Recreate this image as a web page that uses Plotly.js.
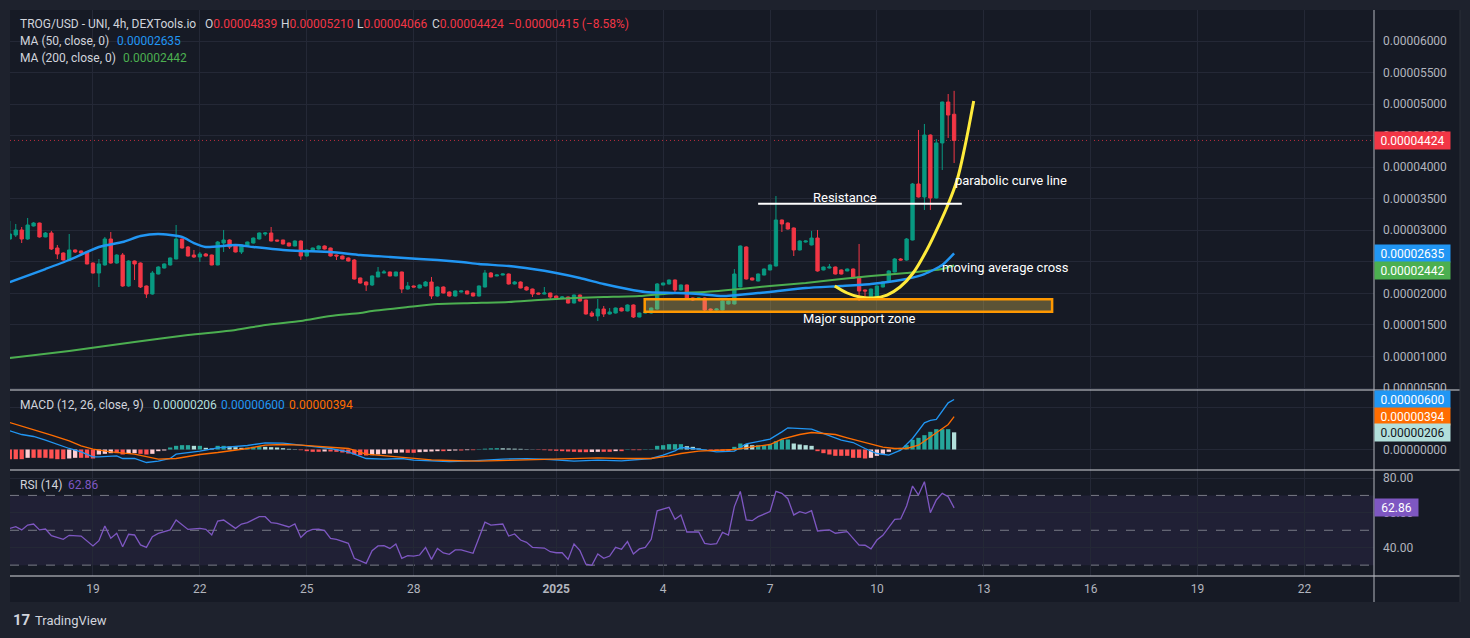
<!DOCTYPE html>
<html><head><meta charset="utf-8">
<script src="https://cdn.plot.ly/plotly-3.0.1.min.js"></script>
<style>html,body{margin:0;padding:0;background:#1e222d;overflow:hidden}#chart{width:1470px;height:638px}</style>
</head><body><div id="chart"></div>
<script>
// ---------- DATA ----------
const startTime = Date.UTC(2024, 11, 16, 16, 0, 0); // first 4h bar
const barHours = 4;

const openVals = [2862e-8,2925e-8,3005e-8,2862e-8,3068e-8,3115e-8,2894e-8,2957e-8,2719e-8,2640e-8,
2529e-8,2688e-8,2672e-8,2656e-8,2481e-8,2323e-8,2450e-8,2862e-8,2481e-8,2608e-8,
2117e-8,2513e-8,2481e-8,2117e-8,1990e-8,2307e-8,2402e-8,2450e-8,2545e-8,2862e-8,
2735e-8,2608e-8,2577e-8,2624e-8,2608e-8,2450e-8,2798e-8,2846e-8,2767e-8,2656e-8,
2751e-8,2798e-8,2862e-8,2941e-8,2957e-8,2846e-8,2846e-8,2798e-8,2751e-8,2830e-8,
2592e-8,2672e-8,2703e-8,2751e-8,2719e-8,2608e-8,2592e-8,2561e-8,2529e-8,2244e-8,
2180e-8,2133e-8,2260e-8,2323e-8,2339e-8,2276e-8,2339e-8,2069e-8,2117e-8,2085e-8,
2117e-8,2180e-8,1958e-8,2101e-8,2022e-8,1958e-8,2022e-8,2038e-8,2006e-8,1958e-8,
2101e-8,2323e-8,2276e-8,2291e-8,2307e-8,2149e-8,2180e-8,2101e-8,2069e-8,2006e-8,
1990e-8,2006e-8,1958e-8,1927e-8,1942e-8,1847e-8,1974e-8,1895e-8,1689e-8,1641e-8,
1752e-8,1673e-8,1689e-8,1768e-8,1721e-8,1816e-8,1625e-8,1689e-8,1689e-8,1752e-8,
2133e-8,2149e-8,2212e-8,2054e-8,2133e-8,1927e-8,1911e-8,1927e-8,1752e-8,1737e-8,
1737e-8,1832e-8,1832e-8,2101e-8,2735e-8,2244e-8,2196e-8,2291e-8,2371e-8,2434e-8,
3163e-8,3115e-8,3036e-8,2688e-8,2814e-8,2767e-8,2877e-8,2371e-8,2402e-8,2418e-8,
2371e-8,2355e-8,2386e-8,2260e-8,2054e-8,1927e-8,1942e-8,2101e-8,2180e-8,2339e-8,
2545e-8,2529e-8,2846e-8,3734e-8,3528e-8,4510e-8,3512e-8,4384e-8,5033e-8,4839e-8];

const highVals = [3147e-8,3100e-8,3052e-8,3195e-8,3130e-8,3120e-8,2973e-8,2990e-8,2767e-8,2650e-8,
2941e-8,2695e-8,2680e-8,2665e-8,2490e-8,2545e-8,2894e-8,2973e-8,2620e-8,2640e-8,
2525e-8,2520e-8,2490e-8,2125e-8,2355e-8,2430e-8,2475e-8,2570e-8,3084e-8,2870e-8,
2751e-8,2688e-8,2656e-8,2640e-8,2615e-8,2830e-8,3005e-8,2855e-8,2775e-8,2775e-8,
2820e-8,2885e-8,2965e-8,2973e-8,3052e-8,2850e-8,2850e-8,2805e-8,2840e-8,2840e-8,
2695e-8,2725e-8,2760e-8,2760e-8,2725e-8,2615e-8,2600e-8,2570e-8,2545e-8,2250e-8,
2190e-8,2285e-8,2418e-8,2371e-8,2345e-8,2345e-8,2345e-8,2180e-8,2125e-8,2140e-8,
2196e-8,2260e-8,2110e-8,2110e-8,2030e-8,2045e-8,2045e-8,2045e-8,2010e-8,2125e-8,
2371e-8,2339e-8,2300e-8,2315e-8,2315e-8,2196e-8,2190e-8,2110e-8,2075e-8,2010e-8,
2101e-8,2010e-8,1965e-8,1958e-8,1950e-8,1980e-8,1980e-8,1900e-8,1721e-8,1911e-8,
1800e-8,1768e-8,1775e-8,1775e-8,1825e-8,1825e-8,1695e-8,1712e-8,1775e-8,2164e-8,
2172e-8,2220e-8,2220e-8,2140e-8,2140e-8,1935e-8,1935e-8,1935e-8,1760e-8,1760e-8,
1887e-8,1887e-8,2386e-8,2760e-8,2745e-8,2250e-8,2315e-8,2395e-8,2460e-8,3543e-8,
3170e-8,3125e-8,3045e-8,2840e-8,2840e-8,2990e-8,3005e-8,2425e-8,2466e-8,2425e-8,
2380e-8,2395e-8,2395e-8,2783e-8,2060e-8,2075e-8,2125e-8,2190e-8,2365e-8,2561e-8,
2561e-8,2877e-8,3750e-8,4590e-8,4685e-8,4520e-8,4447e-8,5040e-8,5160e-8,5210e-8];

const lowVals = [2846e-8,2894e-8,2798e-8,2850e-8,3060e-8,2885e-8,2890e-8,2688e-8,2545e-8,2520e-8,
2513e-8,2640e-8,2630e-8,2460e-8,2315e-8,2101e-8,2440e-8,2470e-8,2470e-8,2105e-8,
2105e-8,2212e-8,2085e-8,1927e-8,1980e-8,2300e-8,2395e-8,2440e-8,2540e-8,2710e-8,
2585e-8,2561e-8,2497e-8,2585e-8,2445e-8,2445e-8,2656e-8,2703e-8,2650e-8,2624e-8,
2745e-8,2790e-8,2855e-8,2910e-8,2825e-8,2820e-8,2775e-8,2745e-8,2745e-8,2529e-8,
2585e-8,2665e-8,2695e-8,2695e-8,2585e-8,2529e-8,2540e-8,2505e-8,2220e-8,2155e-8,
2038e-8,2117e-8,2255e-8,2318e-8,2270e-8,2270e-8,2006e-8,2060e-8,2095e-8,2080e-8,
2110e-8,1911e-8,1950e-8,2000e-8,1950e-8,1950e-8,2015e-8,1985e-8,1950e-8,1950e-8,
2095e-8,2255e-8,2270e-8,2285e-8,2140e-8,2140e-8,2080e-8,2045e-8,1942e-8,1985e-8,
1985e-8,1911e-8,1920e-8,1920e-8,1840e-8,1840e-8,1870e-8,1665e-8,1625e-8,1562e-8,
1625e-8,1665e-8,1680e-8,1715e-8,1715e-8,1610e-8,1620e-8,1680e-8,1680e-8,1745e-8,
2125e-8,2140e-8,2006e-8,2045e-8,1905e-8,1879e-8,1905e-8,1689e-8,1730e-8,1730e-8,
1730e-8,1825e-8,1825e-8,2095e-8,2220e-8,2205e-8,2190e-8,2285e-8,2365e-8,2425e-8,
2973e-8,3010e-8,2592e-8,2680e-8,2805e-8,2760e-8,2345e-8,2365e-8,2395e-8,2300e-8,
2300e-8,2350e-8,2235e-8,1879e-8,1911e-8,1920e-8,1935e-8,2095e-8,2175e-8,2330e-8,
2520e-8,2520e-8,2840e-8,3520e-8,3322e-8,3322e-8,3505e-8,3956e-8,4463e-8,4066e-8];

const closeVals = [2941e-8,3005e-8,2862e-8,3084e-8,3115e-8,2894e-8,2957e-8,2703e-8,2624e-8,2529e-8,
2688e-8,2656e-8,2640e-8,2466e-8,2323e-8,2466e-8,2862e-8,2481e-8,2608e-8,2117e-8,
2513e-8,2466e-8,2101e-8,1990e-8,2323e-8,2418e-8,2466e-8,2561e-8,2862e-8,2719e-8,
2592e-8,2577e-8,2624e-8,2592e-8,2450e-8,2814e-8,2846e-8,2735e-8,2656e-8,2767e-8,
2814e-8,2877e-8,2957e-8,2957e-8,2830e-8,2830e-8,2783e-8,2751e-8,2830e-8,2592e-8,
2688e-8,2719e-8,2751e-8,2703e-8,2592e-8,2592e-8,2545e-8,2513e-8,2228e-8,2164e-8,
2133e-8,2276e-8,2339e-8,2339e-8,2276e-8,2339e-8,2069e-8,2117e-8,2101e-8,2133e-8,
2180e-8,1958e-8,2101e-8,2006e-8,1958e-8,2038e-8,2038e-8,1990e-8,1958e-8,2117e-8,
2323e-8,2260e-8,2291e-8,2307e-8,2149e-8,2180e-8,2085e-8,2054e-8,1990e-8,1990e-8,
2006e-8,1942e-8,1927e-8,1942e-8,1847e-8,1974e-8,1879e-8,1673e-8,1641e-8,1752e-8,
1673e-8,1705e-8,1768e-8,1721e-8,1816e-8,1625e-8,1689e-8,1705e-8,1768e-8,2149e-8,
2164e-8,2212e-8,2054e-8,2133e-8,1911e-8,1895e-8,1927e-8,1737e-8,1737e-8,1752e-8,
1879e-8,1879e-8,2307e-8,2751e-8,2228e-8,2212e-8,2307e-8,2386e-8,2450e-8,3163e-8,
3100e-8,3020e-8,2688e-8,2830e-8,2830e-8,2877e-8,2355e-8,2418e-8,2418e-8,2307e-8,
2307e-8,2386e-8,2244e-8,2038e-8,2038e-8,2069e-8,2117e-8,2180e-8,2355e-8,2545e-8,
2529e-8,2862e-8,3734e-8,3528e-8,4510e-8,3512e-8,4384e-8,5033e-8,4827e-8,4424e-8];

// Moving averages (bar index, value)
const ma50Idx = [0,6,10,15,19,22,25,29,31,33,38,41,46,49,54,59,64,69,72,76,79,84,88,92,96,100,104,107,112,116,120,126,128,134,140,145,150,154,157,159];
const ma50Val = [2180e-8,2386e-8,2529e-8,2735e-8,2814e-8,2909e-8,2941e-8,2894e-8,2798e-8,2735e-8,2767e-8,2735e-8,2688e-8,2672e-8,2656e-8,2608e-8,2577e-8,2545e-8,2529e-8,2497e-8,2466e-8,2434e-8,2386e-8,2323e-8,2244e-8,2149e-8,2069e-8,2022e-8,2006e-8,1990e-8,1958e-8,2006e-8,2022e-8,2085e-8,2117e-8,2149e-8,2212e-8,2307e-8,2450e-8,2635e-8];
const ma200Idx = [0,10,21,30,38,43,49,54,59,61,67,72,78,84,89,95,100,106,112,117,123,128,134,140,145,151,157,159];
const ma200Val = [976e-8,1087e-8,1229e-8,1340e-8,1420e-8,1499e-8,1562e-8,1641e-8,1689e-8,1721e-8,1784e-8,1832e-8,1847e-8,1863e-8,1895e-8,1927e-8,1942e-8,1958e-8,2006e-8,2022e-8,2069e-8,2117e-8,2164e-8,2228e-8,2276e-8,2323e-8,2386e-8,2442e-8];

// MACD (12,26,9)
const macdHist = [-116e-8,-116e-8,-116e-8,-100e-8,-100e-8,-100e-8,-100e-8,-108e-8,-116e-8,-116e-8,
-108e-8,-100e-8,-100e-8,-100e-8,-108e-8,-60e-8,-52e-8,-44e-8,-44e-8,-60e-8,
-52e-8,-44e-8,-52e-8,-60e-8,-52e-8,-20e-8,-12e-8,24e-8,44e-8,52e-8,
52e-8,44e-8,44e-8,20e-8,12e-8,44e-8,44e-8,36e-8,28e-8,20e-8,
24e-8,32e-8,36e-8,32e-8,28e-8,24e-8,16e-8,8e-8,4e-8,-8e-8,
-20e-8,-28e-8,-28e-8,-24e-8,-24e-8,-28e-8,-36e-8,-48e-8,-60e-8,-68e-8,
-72e-8,-68e-8,-60e-8,-52e-8,-48e-8,-40e-8,-36e-8,-40e-8,-40e-8,-32e-8,
-28e-8,-24e-8,-20e-8,-20e-8,-16e-8,-12e-8,-12e-8,-8e-8,-8e-8,4e-8,
10e-8,14e-8,16e-8,14e-8,12e-8,10e-8,8e-8,4e-8,2e-8,-4e-8,
-8e-8,-12e-8,-16e-8,-20e-8,-24e-8,-28e-8,-32e-8,-32e-8,-30e-8,
-28e-8,-28e-8,-28e-8,-20e-8,-20e-8,4e-8,-8e-8,-8e-8,4e-8,4e-8,
44e-8,52e-8,64e-8,64e-8,64e-8,40e-8,32e-8,12e-8,4e-8,-16e-8,
-16e-8,-16e-8,-16e-8,32e-8,72e-8,64e-8,52e-8,52e-8,52e-8,64e-8,
100e-8,120e-8,120e-8,72e-8,60e-8,52e-8,44e-8,-20e-8,-44e-8,-60e-8,
-76e-8,-76e-8,-76e-8,-100e-8,-100e-8,-108e-8,-100e-8,-76e-8,-52e-8,-28e-8,
4e-8,20e-8,52e-8,116e-8,140e-8,172e-8,212e-8,244e-8,244e-8,244e-8,206e-8];
const macdIdx = [0,2,4,6,10,12,14,15,18,19,21,23,25,27,28,30,32,35,38,40,43,46,49,52,54,57,60,63,66,68,71,74,77,79,83,87,91,95,99,103,106,108,110,112,113,116,119,122,124,125,128,130,131,135,137,140,142,144,146,148,150,152,154,155,156,157,158,159];
const macdVal = [224e-8,180e-8,156e-8,112e-8,12e-8,-28e-8,-88e-8,-88e-8,-76e-8,-108e-8,-108e-8,-156e-8,-140e-8,-108e-8,-56e-8,-36e-8,-20e-8,20e-8,36e-8,48e-8,80e-8,76e-8,52e-8,32e-8,12e-8,-28e-8,-108e-8,-116e-8,-108e-8,-128e-8,-140e-8,-144e-8,-140e-8,-132e-8,-115e-8,-110e-8,-120e-8,-140e-8,-128e-8,-136e-8,-124e-8,-108e-8,-68e-8,-16e-8,24e-8,4e-8,-28e-8,-20e-8,68e-8,84e-8,124e-8,212e-8,260e-8,244e-8,192e-8,112e-8,84e-8,12e-8,-48e-8,-68e-8,-8e-8,132e-8,320e-8,350e-8,360e-8,460e-8,560e-8,600e-8];
const signalIdx = [0,4,7,10,12,14,17,21,24,25,28,30,32,35,38,40,43,46,49,52,54,57,60,63,66,68,71,74,77,79,84,89,94,99,103,108,111,113,116,119,122,125,128,130,133,135,139,141,144,147,149,151,153,155,158,159];
const signalVal = [324e-8,232e-8,172e-8,104e-8,44e-8,4e-8,-28e-8,-56e-8,-96e-8,-116e-8,-108e-8,-84e-8,-60e-8,-36e-8,-12e-8,12e-8,52e-8,60e-8,52e-8,40e-8,32e-8,12e-8,-56e-8,-76e-8,-88e-8,-108e-8,-124e-8,-132e-8,-140e-8,-140e-8,-130e-8,-120e-8,-112e-8,-100e-8,-108e-8,-108e-8,-76e-8,-48e-8,-20e-8,-8e-8,0,32e-8,60e-8,124e-8,180e-8,204e-8,180e-8,140e-8,84e-8,28e-8,12e-8,12e-8,52e-8,152e-8,300e-8,394e-8];

// RSI (14)
const rsiIdx = [0,1,2,3,4,5,6,7,9,10,12,14,15,16,17,18,19,20,21,22,23,24,25,27,28,30,32,33,34,35,36,38,39,40,42,43,44,45,47,48,49,50,51,52,53,54,55,57,58,60,61,62,63,64,65,66,67,68,69,70,71,72,73,74,75,76,78,79,80,81,83,84,85,86,87,88,90,91,92,93,94,95,96,97,98,99,100,101,102,103,104,105,106,107,108,109,110,111,112,113,114,116,117,118,119,120,121,122,123,124,125,126,128,129,130,131,132,133,134,135,136,138,139,141,143,144,145,146,147,149,150,151,152,153,154,155,156,157,158,159];
const rsiVal = [51.1,52.1,50.2,53.0,53.6,50.2,50.7,46.9,44.8,47.1,46.7,41.0,44.0,52.4,45.4,48.3,40.6,47.7,47.3,41.6,40.2,46.3,48.2,50.2,55.9,50.5,51.1,50.5,47.3,55.3,55.9,51.1,53.6,54.4,57.8,57.8,54.4,54.0,51.9,53.6,45.9,49.2,50.5,50.7,49.8,45.4,44.8,42.5,33.9,31.0,38.3,41.0,41.2,39.6,42.1,33.9,35.4,35.2,35.8,40.2,33.3,39.6,37.0,36.2,38.7,38.7,36.8,45.7,54.6,53.0,53.6,46.7,47.9,44.4,43.1,40.2,39.8,37.7,37.1,37.1,33.3,42.1,38.3,30.5,29.9,36.4,33.9,35.2,40.2,39.1,43.5,36.4,39.3,40.2,44.8,61.2,62.0,63.2,56.3,58.8,49.0,49.0,42.5,41.9,42.3,48.8,47.3,63.6,72.3,55.9,55.5,57.8,60.7,72.3,71.2,68.1,58.8,60.7,59.7,61.2,49.6,50.2,48.3,49.2,41.5,41.4,39.3,44.4,47.1,56.3,56.5,63.9,75.4,70.2,77.9,60.1,67.4,71.2,69.3,62.86];

// Drawings
const parabolaIdx = [138.9,141.0,143.1,145.3,147.7,149.9,152.1,154.4,156.6,157.8,159.5,160.8,161.7,162.3];
const parabolaVal = [2117e-8,2006e-8,1942e-8,1927e-8,1974e-8,2101e-8,2323e-8,2688e-8,3115e-8,3369e-8,3797e-8,4320e-8,4748e-8,5049e-8];
const resistanceIdx = [126, 160.3];
const resistanceVal = [3421e-8, 3421e-8];
const supportIdx = [106.9, 175.5];
const supportBand = [1709e-8, 1906e-8];

// Axis ticks
const dateTickVals = ['2024-12-19','2024-12-22','2024-12-25','2024-12-28','2025-01-01','2025-01-04','2025-01-07','2025-01-10','2025-01-13','2025-01-16','2025-01-19','2025-01-22'];
const dateTickText = ['19','22','25','28','<b>2025</b>','4','7','10','13','16','19','22'];
const priceTicks = [0.000005,0.00001,0.000015,0.00002,0.000025,0.00003,0.000035,0.00004,0.000045,0.00005,0.000055,0.00006];
const priceTickText = ['0.00000500','0.00001000','0.00001500','0.00002000','','0.00003000','0.00003500','0.00004000','0.00004500','0.00005000','0.00005500','0.00006000'];
const rsiTicks = [40, 60, 80];

// Legend values
const lastPrice = 4424e-8, ma50Last = 2635e-8, ma200Last = 2442e-8;
const macdLast = 600e-8, signalLast = 394e-8, histLast = 206e-8, rsiLast = 62.86;

// ---------- HELPERS ----------
function idxToDate(i){ return new Date(startTime + i*barHours*3600000).toISOString().replace('T',' ').slice(0,23); }
const dates = openVals.map((_, i) => idxToDate(i));
const PL = 10, PT = 10, PW = 1364, PH = 566;
const px = x => (x - PL) / PW;
const py = y => (PT + PH - y) / PH;
const FONT = 'Roboto, "Liberation Sans", Arial, sans-serif';

const histColors = macdHist.map((v, i) => {
  const p = i > 0 ? macdHist[i-1] : v;
  if (v >= 0) return v >= p ? '#26a69a' : '#b2dfdb';
  return v <= p ? '#ff5252' : '#ffcdd2';
});

// ---------- TRACES ----------
const traces = [
  {type:'scatter', mode:'lines', x: ma200Idx.map(idxToDate), y: ma200Val, line:{color:'#4caf50', width:2, shape:'spline', smoothing:0.6}, xaxis:'x', yaxis:'y', hoverinfo:'skip'},
  {type:'scatter', mode:'lines', x: ma50Idx.map(idxToDate), y: ma50Val, line:{color:'#2196f3', width:2.4, shape:'spline', smoothing:0.6}, xaxis:'x', yaxis:'y', hoverinfo:'skip'},
  {type:'candlestick', x: dates, open: openVals, high: highVals, low: lowVals, close: closeVals,
   increasing:{line:{color:'#089981', width:1}, fillcolor:'#089981'},
   decreasing:{line:{color:'#f23645', width:1}, fillcolor:'#f23645'},
   whiskerwidth:0, xaxis:'x', yaxis:'y', hoverinfo:'skip'},
  {type:'scatter', mode:'lines', x: parabolaIdx.map(idxToDate), y: parabolaVal, line:{color:'#ffeb3b', width:3, shape:'spline'}, xaxis:'x', yaxis:'y', hoverinfo:'skip'},
  {type:'scatter', mode:'lines', x: resistanceIdx.map(idxToDate), y: resistanceVal, line:{color:'#ffffff', width:2}, xaxis:'x', yaxis:'y', hoverinfo:'skip'},
  {type:'bar', x: dates, y: macdHist, marker:{color: histColors, line:{width:0}}, width: barHours*3600000*0.72, xaxis:'x2', yaxis:'y2', hoverinfo:'skip'},
  {type:'scatter', mode:'lines', x: macdIdx.map(idxToDate), y: macdVal, line:{color:'#2196f3', width:1.3}, xaxis:'x2', yaxis:'y2', hoverinfo:'skip'},
  {type:'scatter', mode:'lines', x: signalIdx.map(idxToDate), y: signalVal, line:{color:'#ff6d00', width:1.3}, xaxis:'x2', yaxis:'y2', hoverinfo:'skip'},
  {type:'scatter', mode:'lines', x: rsiIdx.map(idxToDate), y: rsiVal, line:{color:'#7e57c2', width:1.3}, xaxis:'x3', yaxis:'y3', hoverinfo:'skip'}
];

// ---------- LAYOUT ----------
const xRange = [idxToDate(0.03), idxToDate(229.7)];
const GRID = '#242836';
const baseX = {type:'date', range: xRange, tickvals: dateTickVals, ticktext: dateTickText, showgrid:true, gridcolor: GRID, gridwidth:1, zeroline:false, showline:false, ticks:'', fixedrange:true};

const shapes = [
  {type:'rect', xref:'paper', yref:'paper', x0: px(10), x1: px(1460), y0: py(602), y1: py(10), fillcolor:'#161a25', line:{width:0}, layer:'below'},
  {type:'rect', xref:'paper', yref:'y3', x0:0, x1:1, y0:30, y1:70, fillcolor:'rgba(126,87,194,0.1)', line:{width:0}, layer:'between'},
  {type:'line', xref:'paper', yref:'y3', x0:0, x1:1, y0:70, y1:70, line:{color:'#787b86', width:1, dash:'dash'}, layer:'between'},
  {type:'line', xref:'paper', yref:'y3', x0:0, x1:1, y0:50, y1:50, line:{color:'#787b86', width:1, dash:'dash'}, layer:'between'},
  {type:'line', xref:'paper', yref:'y3', x0:0, x1:1, y0:30, y1:30, line:{color:'#787b86', width:1, dash:'dash'}, layer:'between'},
  {type:'line', xref:'paper', yref:'y', x0:0, x1:1, y0:lastPrice, y1:lastPrice, line:{color:'rgba(242,54,69,0.75)', width:1, dash:'1px,3px'}, layer:'between'},
  {type:'rect', xref:'x', yref:'y', x0: idxToDate(supportIdx[0]), x1: idxToDate(supportIdx[1]), y0: supportBand[0], y1: supportBand[1], fillcolor:'rgba(240,205,90,0.32)', line:{color:'#ff9800', width:2.5}, layer:'above'},
  {type:'line', xref:'paper', yref:'paper', x0: px(10), x1: px(1460), y0: py(390), y1: py(390), line:{color:'#d6d8de', width:1.2}, layer:'above'},
  {type:'line', xref:'paper', yref:'paper', x0: px(10), x1: px(1460), y0: py(470), y1: py(470), line:{color:'#d6d8de', width:1.2}, layer:'above'},
  {type:'line', xref:'paper', yref:'paper', x0: px(10), x1: px(1460), y0: py(576), y1: py(576), line:{color:'#d6d8de', width:1.2}, layer:'above'},
  {type:'line', xref:'paper', yref:'paper', x0: 1, x1: 1, y0: py(602), y1: py(10), line:{color:'#b2b5be', width:1}, layer:'above'},
  {type:'line', xref:'paper', yref:'paper', x0: px(1460), x1: px(1460), y0: py(602), y1: py(10), line:{color:'#2a2e39', width:1}, layer:'above'}
];

const fmt8 = v => v.toFixed(8);
const lbl = '#d1d4dc';
function txt(x, y, text, color, size){
  return {xref:'paper', yref:'paper', x: px(x), y: py(y), xanchor:'left', yanchor:'middle', text, showarrow:false, font:{family:FONT, size: size||12, color: color||lbl}};
}
function box(yref, val, text, bg, fg, w, yshift){
  return {xref:'paper', yref, x:1, y:val, xanchor:'left', yanchor:'middle', text, showarrow:false, bgcolor:bg, borderpad:2, width: w||71, height:13, align:'center', yshift: yshift||0, font:{family:FONT, size:12, color: fg||'#ffffff'}};
}
const R = '#f23645';
const annotations = [
  txt(18, 24, 'TROG/USD - UNI, 4h, DEXTools.io'),
  txt(203, 24, `O<span style="color:${R}">${fmt8(openVals[159])}</span>`),
  txt(279, 24, `H<span style="color:${R}">${fmt8(highVals[159])}</span>`),
  txt(355, 24, `L<span style="color:${R}">${fmt8(lowVals[159])}</span>`),
  txt(430, 24, `C<span style="color:${R}">${fmt8(closeVals[159])}</span>`),
  txt(506, 24, '\u22120.00000415 (\u22128.58%)', R),
  txt(18, 41, 'MA (50, close, 0)'), txt(115, 41, fmt8(ma50Last), '#2196f3'),
  txt(18, 58, 'MA (200, close, 0)'), txt(121, 58, fmt8(ma200Last), '#4caf50'),
  txt(18, 405, 'MACD (12, 26, close, 9)'),
  txt(151, 405, fmt8(histLast), '#b2dfdb'), txt(219, 405, fmt8(macdLast), '#2196f3'), txt(287, 405, fmt8(signalLast), '#ff6d00'),
  txt(18, 485, 'RSI (14)'), txt(66, 485, rsiLast.toFixed(2), '#7e57c2'),
  txt(11, 620, '<b>17</b>', '#d1d4dc', 15),
  txt(33, 620, 'TradingView', '#d1d4dc', 13),
  {xref:'x', yref:'y', x: idxToDate(140.6), y: 3512e-8, text:'Resistance', showarrow:false, xanchor:'center', yanchor:'middle', font:{family:FONT, size:13, color:'#ffffff'}},
  {xref:'x', yref:'y', x: idxToDate(158.8), y: 3797e-8, text:'parabolic curve line', showarrow:false, xanchor:'left', yanchor:'middle', font:{family:FONT, size:13, color:'#ffffff'}},
  {xref:'x', yref:'y', x: idxToDate(156.6), y: 2418e-8, text:'moving average cross', showarrow:false, xanchor:'left', yanchor:'middle', font:{family:FONT, size:13, color:'#ffffff'}},
  {xref:'x', yref:'y', x: idxToDate(143.1), y: 1594e-8, text:'Major support zone', showarrow:false, xanchor:'center', yanchor:'middle', font:{family:FONT, size:13, color:'#ffffff'}},
  box('y', lastPrice, fmt8(lastPrice), '#f23645'),
  box('y', ma50Last, fmt8(ma50Last), '#2196f3'),
  box('y', ma200Last, fmt8(ma200Last), '#4caf50', '#ffffff', 71, -5),
  box('y2', macdLast, fmt8(macdLast), '#2196f3'),
  box('y2', signalLast, fmt8(signalLast), '#ff6d00'),
  box('y2', histLast, fmt8(histLast), '#b2dfdb', '#131722'),
  box('y3', rsiLast, rsiLast.toFixed(2), '#7e57c2', '#ffffff', 39)
];

const yBase = {side:'right', showgrid:true, gridcolor: GRID, zeroline:false, showline:false, ticks:'', ticklabelstandoff:8, tickfont:{family:FONT, size:12, color:'#b2b5be'}, fixedrange:true};

const layout = {
  width:1470, height:638,
  margin:{l:PL, r:1470-PL-PW, t:PT, b:638-PT-PH, pad:0},
  paper_bgcolor:'#1e222d', plot_bgcolor:'#161a25',
  showlegend:false, hovermode:false, dragmode:false, boxgap:0.2,
  font:{family:FONT, color:'#b2b5be', size:12},
  xaxis: Object.assign({}, baseX, {domain:[0,1], anchor:'y', showticklabels:false, rangeslider:{visible:false}}),
  xaxis2: Object.assign({}, baseX, {domain:[0,1], anchor:'y2', showticklabels:false, matches:'x'}),
  xaxis3: Object.assign({}, baseX, {domain:[0,1], anchor:'y3', showticklabels:true, ticklabelstandoff:4, tickfont:{family:FONT, size:12, color:'#b2b5be'}, matches:'x'}),
  yaxis: Object.assign({}, yBase, {domain:[py(390), 1], anchor:'x', range:[468.5e-8, 6491.5e-8], tickvals: priceTicks, ticktext: priceTickText}),
  yaxis2: Object.assign({}, yBase, {domain:[py(470), py(390)], anchor:'x2', range:[-246e-8, 714e-8], tickvals:[0, 500e-8], ticktext:['0.00000000', '']}),
  yaxis3: Object.assign({}, yBase, {domain:[0, py(470)], anchor:'x3', range:[23.76, 84.59], tickvals: rsiTicks, ticktext: rsiTicks.map(v => v.toFixed(2))}),
  shapes, annotations
};

Plotly.newPlot('chart', traces, layout, {staticPlot:true, displayModeBar:false});
</script></body></html>
